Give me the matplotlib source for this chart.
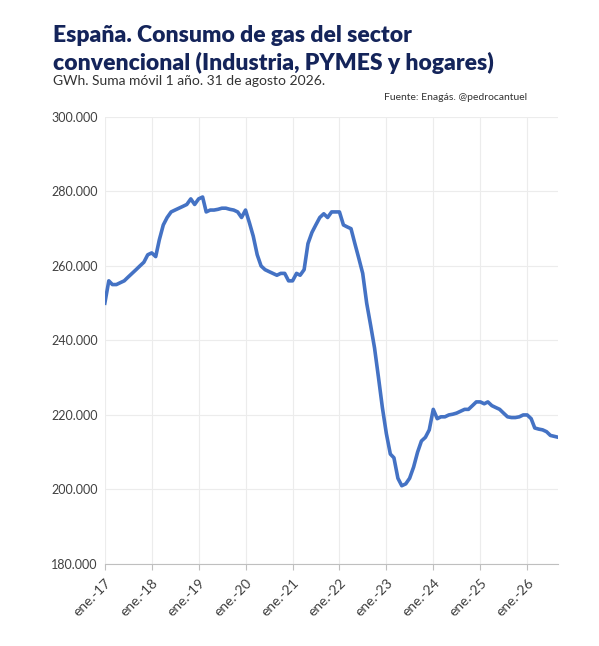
import numpy as np
import pandas as pd
import matplotlib
matplotlib.use("Agg")
import matplotlib.pyplot as plt

plt.rcParams['font.family'] = ['Lato', 'DejaVu Sans']

# monthly values, GWh (suma movil 1 año), jan-2017 .. aug-2026
vals_2017 = [250, 256, 255, 255, 255.5, 256, 257, 258, 259, 260, 261, 263]
vals_2018 = [263.5, 262.5, 267, 271, 273, 274.5, 275, 275.5, 276, 276.5, 278, 276.5]
vals_2019 = [278, 278.5, 274.5, 275, 275, 275.2, 275.5, 275.5, 275.2, 275, 274.5, 273]
vals_2020 = [275, 271.5, 268, 263, 260, 259, 258.5, 258, 257.5, 258, 258, 256]
vals_2021 = [256, 258, 257.5, 259, 266, 269, 271, 273, 274, 273, 274.5, 274.5]
vals_2022 = [274.5, 271, 270.5, 270, 266, 262, 258, 250, 244, 238, 230, 222]
vals_2023 = [215, 209.5, 208.5, 203, 201, 201.5, 203, 206, 210, 213, 214, 216]
vals_2024 = [221.5, 219, 219.5, 219.5, 220, 220.2, 220.5, 221, 221.5, 221.5, 222.5, 223.5]
vals_2025 = [223.5, 223, 223.5, 222.5, 222, 221.5, 220.5, 219.5, 219.3, 219.3, 219.5, 220]
vals_2026 = [220, 219, 216.5, 216.2, 216, 215.5, 214.5, 214]

values = (vals_2017 + vals_2018 + vals_2019 + vals_2020 + vals_2021 +
          vals_2022 + vals_2023 + vals_2024 + vals_2025 + vals_2026)
dates = pd.date_range("2017-01-01", periods=len(values), freq="MS")
dates = dates.where(dates < pd.Timestamp("2026-08-01"), pd.Timestamp("2026-08-31"))

tick_years = list(range(2017, 2027))
tick_labels = ["ene.-%02d" % (y % 100) for y in tick_years]

fig = plt.figure(figsize=(5.99, 6.46), dpi=100)
ax = fig.add_axes([0.175, 0.127, 0.757, 0.692])

ax.plot(dates, np.array(values) * 1000, color="#4472c4", lw=2.6)

ax.set_ylim(180000, 300000)
ax.set_yticks(np.arange(180000, 300001, 20000))
ax.set_yticklabels([f"{v:,.0f}".replace(",", ".") for v in np.arange(180000, 300001, 20000)],
                   fontsize=9, color="#404040")
ax.set_xlim(pd.Timestamp("2017-01-01"), pd.Timestamp("2026-08-31"))
ax.set_xticks([pd.Timestamp(f"{y}-01-01") for y in tick_years])
ax.set_xticklabels(tick_labels, rotation=45, ha="right", rotation_mode="anchor",
                   fontsize=10, color="#404040")
ax.tick_params(length=0, pad=5)
ax.tick_params(axis='x', length=4, color="#bfbfbf")

ax.grid(True, color="#ececec", lw=0.8)
for s in ["top", "right", "left"]:
    ax.spines[s].set_visible(False)
ax.spines["bottom"].set_color("#bfbfbf")

fig.text(0.088, 0.935, "España. Consumo de gas del sector", fontsize=16.5,
         fontweight="heavy", color="#14245a")
fig.text(0.088, 0.891, "convencional (Industria, PYMES y hogares)", fontsize=16.5,
         fontweight="heavy", color="#14245a")
fig.text(0.088, 0.868, "GWh. Suma móvil 1 año. 31 de agosto 2026.", fontsize=10,
         color="#333333")
fig.text(0.88, 0.845, "Fuente: Enagás. @pedrocantuel", fontsize=7.5,
         color="#333333", ha="right")

fig.savefig("out.png", dpi=100, facecolor="white")
